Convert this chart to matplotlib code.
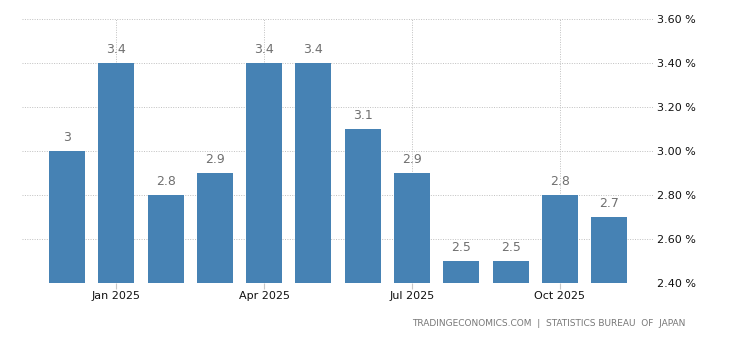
import numpy as np
import matplotlib
matplotlib.use('Agg')
import matplotlib.pyplot as plt

months = ['Dec 2024', 'Jan 2025', 'Feb 2025', 'Mar 2025', 'Apr 2025', 'May 2025',
          'Jun 2025', 'Jul 2025', 'Aug 2025', 'Sep 2025', 'Oct 2025', 'Nov 2025']
values = [3.0, 3.4, 2.8, 2.9, 3.4, 3.4, 3.1, 2.9, 2.5, 2.5, 2.8, 2.7]
value_labels = ['3', '3.4', '2.8', '2.9', '3.4', '3.4', '3.1', '2.9', '2.5', '2.5', '2.8', '2.7']
tick_idx = [1, 4, 7, 10]
yticks = [2.4, 2.6, 2.8, 3.0, 3.2, 3.4, 3.6]

plt.rcParams['font.family'] = ['DejaVu Sans']

fig = plt.figure(figsize=(7.3, 3.4), dpi=100)
ax = fig.add_axes([22 / 730, 57 / 340, 631 / 730, 264 / 340])

base = 2.4
x = np.arange(len(values))
ax.bar(x, np.array(values) - base, bottom=base, width=0.73, color='#4682b4', zorder=3)

for xi, v, lab in zip(x, values, value_labels):
    ax.annotate(lab, (xi, v), xytext=(0, 5), textcoords='offset points',
                ha='center', va='bottom', fontsize=9, color='#707070', zorder=4)

ax.set_xlim(-0.913, 11.89)
ax.set_ylim(2.4, 3.6)

ax.set_xticks(tick_idx)
ax.set_xticklabels([months[i] for i in tick_idx], fontsize=8, color='#111111')
ax.set_yticks(yticks)
ax.set_yticklabels([f'{t:.2f} %' for t in yticks], fontsize=8, color='#111111')
ax.yaxis.tick_right()
ax.tick_params(axis='y', length=0, pad=3)
ax.tick_params(axis='x', length=4, color='#c8c8c8', pad=2)

ax.grid(True, axis='both', color='#c0c0c0', linestyle=(0, (1, 1.5)), linewidth=0.7, zorder=0)
for s in ax.spines.values():
    s.set_visible(False)

fig.text(685 / 730, 1 - 324 / 340, 'TRADINGECONOMICS.COM  |  STATISTICS BUREAU  OF  JAPAN',
         ha='right', va='center', fontsize=6.5, color='#777777')

fig.savefig('out.png', dpi=100)
